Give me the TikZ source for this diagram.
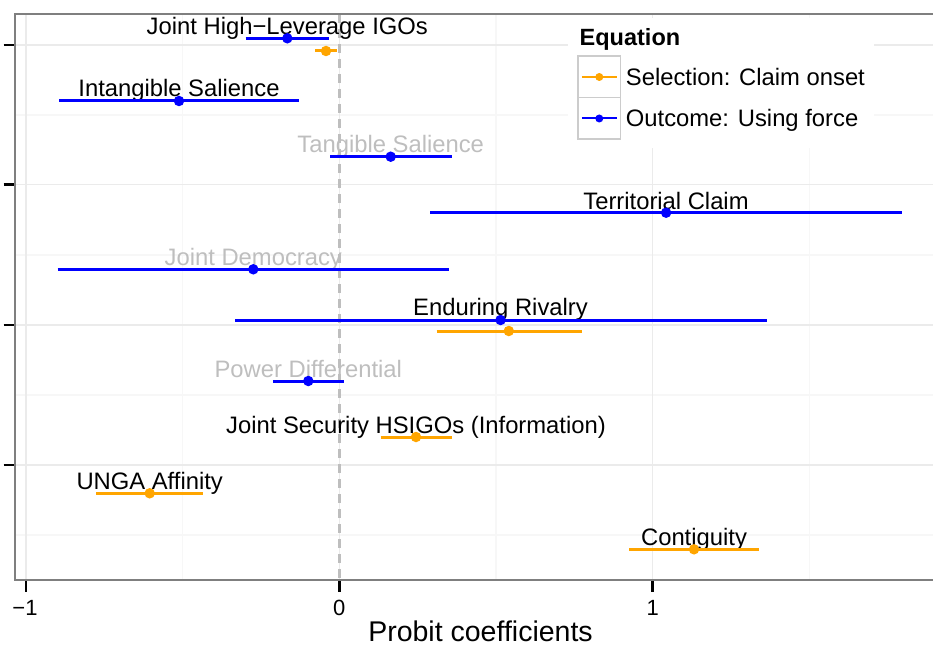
\documentclass[tikz,border=0pt]{standalone}
\usepackage{fontspec}
\setmainfont{Liberation Sans}
\definecolor{ggorange}{HTML}{FFA500}
\definecolor{ggblue}{HTML}{0000FF}
\definecolor{gridmaj}{HTML}{EBEBEB}
\definecolor{gridmin}{HTML}{F7F7F7}
\definecolor{panelborder}{HTML}{7F7F7F}
\definecolor{labgray}{HTML}{BEBEBE}
\definecolor{keyborder}{HTML}{CCCCCC}
\begin{document}
\begin{tikzpicture}[x=1pt,y=-1pt,
  majgrid/.style={draw=gridmaj,line width=1.5pt},
  mingrid/.style={draw=gridmin,line width=1.5pt},
  oline/.style={draw=ggorange,line width=3pt},
  bline/.style={draw=ggblue,line width=3pt},
  opt/.style={circle,fill=ggorange,inner sep=0pt,minimum size=10.5pt},
  bpt/.style={circle,fill=ggblue,inner sep=0pt,minimum size=10.5pt},
  lab/.style={anchor=base,inner sep=0pt,font=\fontsize{23.8}{28}\selectfont,text=black},
  glab/.style={lab,text=labgray},
  tickmark/.style={draw=black,line width=2.5pt},
  ticklab/.style={anchor=base,inner sep=0pt,font=\fontsize{22}{26}\selectfont},
  keybox/.style={draw=keyborder,line width=1.5pt,fill=white,minimum width=42.5pt,minimum height=41.5pt,inner sep=0pt},
  legtext/.style={anchor=base west,inner sep=0pt,font=\fontsize{23.8}{28}\selectfont},
]
\useasboundingbox (0,0) rectangle (933,647);
% panel background and grid
\begin{scope}
\clip (15,14) rectangle (933,580);
\foreach \gx in {182.6,496,809.5} \draw[mingrid] (\gx,14) -- (\gx,580);
\foreach \gy in {115,255,395,535} \draw[mingrid] (15,\gy) -- (933,\gy);
\foreach \gx in {26,339.3,652.7} \draw[majgrid] (\gx,14) -- (\gx,580);
\foreach \gy in {45,184.5,325,465} \draw[majgrid] (15,\gy) -- (933,\gy);
\draw[draw=labgray,line width=2.5pt,dash pattern=on 9pt off 6pt] (339.3,14) -- (339.3,580);
\end{scope}
% panel border
\draw[draw=panelborder,line width=2pt] (933,13.8) -- (14.8,13.8) -- (14.8,580.2) -- (933,580.2);
% axis ticks
\foreach \gy in {45,184.5,325,465} \draw[tickmark] (3.5,\gy) -- (13.8,\gy);
\foreach \gx in {26,339.3,652.7} \draw[tickmark] (\gx,581.2) -- (\gx,591.5);
\node[ticklab] (tm1) at (25,615) {−1};
\node[ticklab] (t0) at (339.3,615) {0};
\node[ticklab] (t1) at (652.7,615) {1};
\node[anchor=base,inner sep=0pt,font=\fontsize{28.5}{34}\selectfont] (xtitle) at (480.5,641.5) {Probit coefficients};
% labels
\node[lab] (lJHL) at (287.3,34.3) {Joint High−Leverage IGOs};
\node[lab] (lIS) at (179,96.7) {Intangible Salience};
\node[glab] (lTS) at (390.7,152.7) {Tangible Salience};
\node[lab] (lTC) at (666,209.3) {Territorial Claim};
\node[glab] (lJD) at (253.3,265.3) {Joint Democracy};
\node[lab] (lER) at (500.5,315.5) {Enduring Rivalry};
\node[glab] (lPD) at (308.3,377) {Power Differential};
\node[lab] (lJS) at (416,433.3) {Joint Security HSIGOs (Information)};
\node[lab] (lUN) at (149.7,489.3) {UNGA Affinity};
\node[lab] (lCO) at (694,545.5) {Contiguity};
% blue (outcome) intervals
\coordinate (bJHLa) at (245.7,38.3); \coordinate (bJHLb) at (329.3,38.3);
\coordinate (bISa) at (59.3,101); \coordinate (bISb) at (299,101);
\coordinate (bTSa) at (330,156.7); \coordinate (bTSb) at (451.7,156.7);
\coordinate (bTCa) at (430.3,212.7); \coordinate (bTCb) at (902.4,212.7);
\coordinate (bJDa) at (57.7,269.3); \coordinate (bJDb) at (449.3,269.3);
\coordinate (bERa) at (235,320); \coordinate (bERb) at (766.8,320);
\coordinate (bPDa) at (273,381); \coordinate (bPDb) at (343.7,381);
\foreach \n in {JHL,IS,TS,TC,JD,ER,PD} \draw[bline] (b\n a) -- (b\n b);
% orange (selection) intervals
\coordinate (oJHLa) at (315.3,51); \coordinate (oJHLb) at (337.3,51);
\coordinate (oERa) at (436.7,331); \coordinate (oERb) at (581.5,331);
\coordinate (oJSa) at (380.7,437); \coordinate (oJSb) at (451.7,437);
\coordinate (oUNa) at (96.3,493.3); \coordinate (oUNb) at (203,493.3);
\coordinate (oCOa) at (629,549.3); \coordinate (oCOb) at (759.3,549.3);
\foreach \n in {JHL,ER,JS,UN,CO} \draw[oline] (o\n a) -- (o\n b);
% points
\node[bpt] (pbJHL) at (287.3,38.3) {};
\node[bpt] (pbIS) at (179,101) {};
\node[bpt] (pbTS) at (390.7,156.7) {};
\node[bpt] (pbTC) at (666.1,212.7) {};
\node[bpt] (pbJD) at (253.3,269.3) {};
\node[bpt] (pbER) at (500.6,320) {};
\node[bpt] (pbPD) at (308.3,381) {};
\node[opt] (poJHL) at (326,51) {};
\node[opt] (poER) at (508.8,331) {};
\node[opt] (poJS) at (416,437) {};
\node[opt] (poUN) at (149.7,493.3) {};
\node[opt] (poCO) at (694,549.3) {};
% legend
\fill[white] (568,18) rectangle (874,148);
\node[anchor=base west,inner sep=0pt,font=\bfseries\fontsize{23.5}{28}\selectfont] (legtitle) at (579.5,46) {Equation};
\node[keybox] (key1) at (599.3,77) {};
\node[keybox] (key2) at (599.3,118.5) {};
\draw[draw=ggorange,line width=2pt] ([xshift=4.5pt]key1.west) -- ([xshift=-4.5pt]key1.east);
\draw[draw=ggblue,line width=2pt] ([xshift=4.5pt]key2.west) -- ([xshift=-4.5pt]key2.east);
\node[circle,fill=ggorange,inner sep=0pt,minimum size=8pt] (kp1) at (key1.center) {};
\node[circle,fill=ggblue,inner sep=0pt,minimum size=8pt] (kp2) at (key2.center) {};
\node[legtext] (leg1) at (625.7,86) {Selection: Claim onset};
\node[legtext] (leg2) at (625.7,127) {Outcome: Using force};
\end{tikzpicture}
\end{document}
